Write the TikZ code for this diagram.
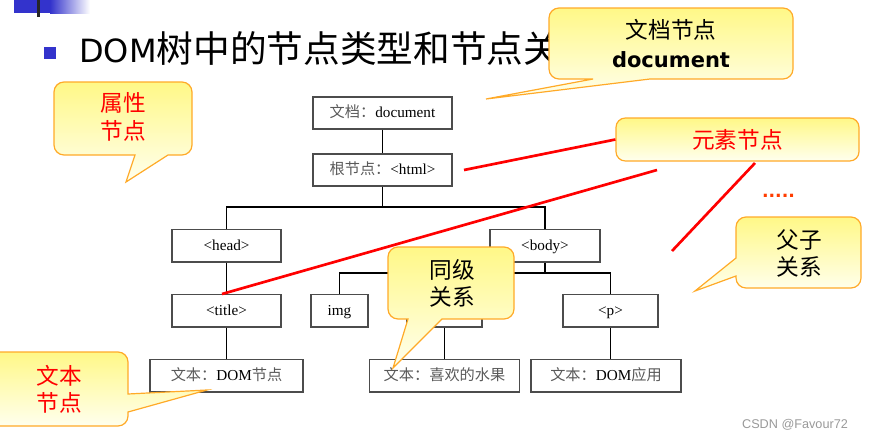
\documentclass[tikz,border=0pt]{standalone}
\usepackage{fontspec}
\setmainfont{Liberation Serif}
\newfontfamily\cjk{Noto Sans CJK SC}
\newfontfamily\dejavu{DejaVu Sans}
\newfontfamily\lsans{Liberation Sans}
\definecolor{bullblue}{RGB}{51,51,204}
\definecolor{calltop}{RGB}{255,248,135}
\definecolor{callbot}{RGB}{255,255,238}
\definecolor{callline}{RGB}{255,170,40}
\definecolor{dotred}{RGB}{255,60,0}
\newcommand{\zh}[1]{{\cjk\color{black!65}#1}}
\begin{document}
\begin{tikzpicture}[x=0.75pt,y=-0.75pt,
  tbox/.style={draw=black!70, line width=1pt, inner sep=0pt, minimum height=24.5pt,
    text height=9.5pt, text depth=2.5pt, font=\fontsize{11.4}{13}\selectfont},
  conn/.style={draw=black, line width=0.8pt},
  redline/.style={draw=red, line width=2pt},
  callout/.style={top color=calltop, bottom color=callbot, draw=callline, line width=0.9pt},
  ctext/.style={font=\cjk\fontsize{17}{20.5}\selectfont, align=center, inner sep=0pt}]
\useasboundingbox (0,0) rectangle (873,439);

% top-left decoration
\fill[bullblue] (14,0) rectangle (50,13);
\shade[left color=bullblue, right color=white] (50,0) rectangle (90,13);
\fill[black!85] (37,0) rectangle (40,17);

% title
\fill[bullblue] (44,47) rectangle (56,59);
\node[anchor=base west, inner sep=0pt] (ttl) at (79,62)
  {{\dejavu\fontsize{24}{28}\selectfont DOM}{\cjk\fontsize{27.5}{30}\selectfont 树中的节点类型和节点关系}};

% tree boxes
\node[tbox, minimum width=104.25pt, minimum height=24pt] (doc) at (382.5,113) {\zh{文档：}document};
\node[tbox, minimum width=104.25pt, minimum height=24pt] (html) at (382.5,170) {\zh{根节点：}<html>};
\node[tbox, minimum width=81.75pt] (head) at (226.5,245.5) {<head>};
\node[tbox, minimum width=82.5pt] (body) at (545,245.5) {<body>};
\node[tbox, minimum width=81.75pt] (title) at (226.5,310.5) {<title>};
\node[tbox, minimum width=42.75pt] (img) at (339.5,310.5) {img};
\node[tbox, minimum width=56.25pt] (hid) at (444.5,310.5) {};
\node[tbox, minimum width=71.25pt] (p) at (610.5,310.5) {<p>};
\node[tbox, minimum width=114.75pt] (t1) at (226.5,375.5) {\zh{文本：}DOM\zh{节点}};
\node[tbox, minimum width=112.5pt] (t2) at (444.5,375.5) {\zh{文本：喜欢的水果}};
\node[tbox, minimum width=112.5pt] (t3) at (606,375.5) {\zh{文本：}DOM\zh{应用}};

% connectors
\coordinate (j1) at (382.5,207);
\coordinate (j2) at (545,273);
\draw[conn] (doc) -- (html);
\draw[conn] (html.south) -- (j1);
\draw[conn] (head.north) |- (j1) -| (body.north);
\draw[conn] (head) -- (title);
\draw[conn] (title) -- (t1);
\draw[conn] (body.south) -- (j2);
\draw[conn] (img.north) |- (j2) -| (p.north);
\draw[conn] (hid.north) -- (hid.north |- j2);
\draw[conn] (hid) -- (t2);
\draw[conn] (p.south) -- (p.south |- t3.north);

% element node box and red lines
\node[top color=calltop, bottom color=callbot, draw=callline, line width=0.9pt, rounded corners=7pt,
  minimum width=182.25pt, minimum height=32.25pt, inner sep=0pt,
  font=\cjk\fontsize{17}{20.5}\selectfont, text=red] (elem) at (737.5,139.5) {元素节点};
\coordinate (r1a) at (464,170);
\coordinate (r2a) at (222,294);
\coordinate (r2b) at (657,170);
\coordinate (r3a) at (755,163);
\coordinate (r3b) at (672,251);
\draw[redline] (r1a) -- (elem.west);
\draw[redline] (r2a) -- (r2b);
\draw[redline] (r3a) -- (r3b);
\node[anchor=base, inner sep=0pt, text=dotred, font=\dejavu\bfseries\fontsize{13}{15}\selectfont] (dots) at (778.5,197.5) {.....};

% callout: document  (l=549 r=793 t=8 b=79)
\shade[callout] (549,69) -- (549,18) arc[start angle=180,end angle=90,radius=7.5pt]
  -- (783,8) arc[start angle=90,end angle=0,radius=7.5pt]
  -- (793,69) arc[start angle=0,end angle=-90,radius=7.5pt]
  -- (650,79) -- (486,99) -- (593,79)
  -- (559,79) arc[start angle=-90,end angle=-180,radius=7.5pt] -- cycle;
\node[ctext] (doct) at (671,30) {文档节点};
\node[anchor=base, inner sep=0pt, font=\dejavu\bfseries\fontsize{15.75}{18}\selectfont] (docb) at (671,67) {document};

% callout: attribute (l=54 r=192 t=82 b=155)
\shade[callout] (54,145) -- (54,92) arc[start angle=180,end angle=90,radius=7.5pt]
  -- (182,82) arc[start angle=90,end angle=0,radius=7.5pt]
  -- (192,145) arc[start angle=0,end angle=-90,radius=7.5pt]
  -- (168,155) -- (126,182) -- (135,155)
  -- (64,155) arc[start angle=-90,end angle=-180,radius=7.5pt] -- cycle;
\node[ctext, text=red] (attrt) at (123,117) {属性\\节点};

% callout: parent-child (l=736 r=861 t=217 b=288)
\shade[callout] (736,258) -- (736,227) arc[start angle=180,end angle=90,radius=7.5pt]
  -- (851,217) arc[start angle=90,end angle=0,radius=7.5pt]
  -- (861,278) arc[start angle=0,end angle=-90,radius=7.5pt]
  -- (746,288) arc[start angle=-90,end angle=-180,radius=7.5pt]
  -- (736,276) -- (695,291) -- cycle;
\node[ctext] (part) at (799,253.5) {父子\\关系};

% callout: sibling (l=388 r=514 t=247 b=319)
\shade[callout] (388,309) -- (388,257) arc[start angle=180,end angle=90,radius=7.5pt]
  -- (504,247) arc[start angle=90,end angle=0,radius=7.5pt]
  -- (514,309) arc[start angle=0,end angle=-90,radius=7.5pt]
  -- (442,319) -- (393,368) -- (408,319)
  -- (398,319) arc[start angle=-90,end angle=-180,radius=7.5pt] -- cycle;
\node[ctext] (sibt) at (452,283.5) {同级\\关系};

% callout: text node (l=-12 r=128 t=352 b=426)
\shade[callout] (128,394) -- (207,390) -- (128,412)
  -- (128,416) arc[start angle=0,end angle=-90,radius=7.5pt]
  -- (-12,426) -- (-12,352)
  -- (118,352) arc[start angle=90,end angle=0,radius=7.5pt] -- cycle;
\node[ctext, text=red] (txtt) at (59,389.5) {文本\\节点};

% watermark
\node[inner sep=0pt, font=\lsans\fontsize{9.5}{11}\selectfont, text=black!40] (wm) at (795,425) {CSDN @Favour72};
\end{tikzpicture}
\end{document}
